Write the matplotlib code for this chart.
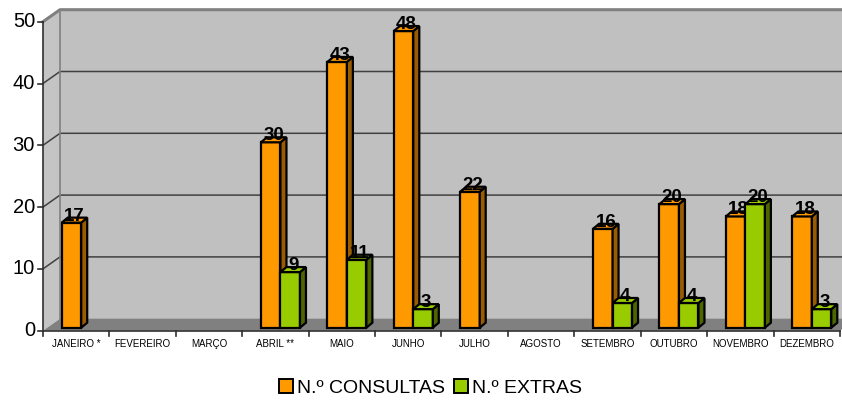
import numpy as np
import matplotlib.pyplot as plt
from matplotlib.patches import Polygon, Rectangle, Patch

plt.rcParams['font.family'] = ['Liberation Sans', 'DejaVu Sans']

# data (None = no bar)
meses = ['JANEIRO *', 'FEVEREIRO', 'MARÇO', 'ABRIL **', 'MAIO', 'JUNHO',
         'JULHO', 'AGOSTO', 'SETEMBRO', 'OUTUBRO', 'NOVEMBRO', 'DEZEMBRO']
consultas = [17, None, None, 30, 43, 48, 22, None, 16, 20, 18, 18]
extras = [None, None, None, 9, 11, 3, None, None, 4, 4, 20, 3]
y_ticks = [0, 10, 20, 30, 40, 50]

series = [('N.º CONSULTAS', consultas, '#FF9900', '#9A5C00'),
          ('N.º EXTRAS', extras, '#99CC00', '#4D6600')]

W, H = 842, 403
fig = plt.figure(figsize=(W / 100, H / 100), dpi=100)
ax = fig.add_axes([43 / W, (H - 330.7) / H, 797 / W, 309 / H])
n = len(meses)
ymax = y_ticks[-1]
ax.set_xlim(0, n)
ax.set_ylim(0, ymax)
ax.axis('off')

# pixel sizes turned into data units
sx = 797 / n
sy = 309 / ymax
wx, wy = 17 / sx, 12 / sy     # depth of the walls
bx, by = 5 / sx, 3 / sy       # bars sit a bit behind the front plane
dx, dy = 6 / sx, 5 / sy       # depth of each bar
bw = 19.5 / sx

# walls and floor
ax.add_patch(Polygon([(wx, wy), (n + wx, wy), (n + wx, ymax + wy), (wx, ymax + wy)],
                     fc='#C0C0C0', ec='none', clip_on=False, zorder=0))
ax.add_patch(Polygon([(0, 0), (wx, wy), (wx, ymax + wy), (0, ymax)],
                     fc='#C4C4C4', ec='none', clip_on=False, zorder=0))
ax.add_patch(Polygon([(0, 0), (n, 0), (n + wx, wy), (wx, wy)],
                     fc='#808080', ec='none', clip_on=False, zorder=1))

for t in y_ticks[1:-1]:
    ax.plot([0, wx, n + wx], [t, t + wy, t + wy], color='#404040', lw=1.1,
            clip_on=False, zorder=1)
ax.plot([0, wx, n + wx], [ymax, ymax + wy, ymax + wy], color='#808080', lw=2.2,
        clip_on=False, zorder=1)
ax.plot([wx, wx], [wy, ymax + wy], color='#808080', lw=1.2, clip_on=False, zorder=1)

# axes lines and ticks
ax.plot([0, 0], [0, ymax], color='#303030', lw=1.2, clip_on=False, zorder=2)
ax.plot([0, n], [0, 0], color='#303030', lw=1.2, clip_on=False, zorder=2)
for t in y_ticks:
    ax.plot([-5 / sx, 0], [t, t], color='#303030', lw=1.2, clip_on=False)
    ax.text(-8 / sx, t, str(t), ha='right', va='center', fontsize=14.5)
for i in range(n + 1):
    ax.plot([i, i], [0, -5 / sy], color='#303030', lw=1.2, clip_on=False)
for i, m in enumerate(meses):
    ax.text(i + 0.5, -13.5 / sy, m, ha='center', va='center', fontsize=7)

# 3d-looking columns
z = 3
for k, (name, vals, fc, sc) in enumerate(series):
    for i, v in enumerate(vals):
        if v is None:
            continue
        x0 = i + 0.5 + bx - bw + k * bw
        y0, y1 = by, v + by
        ax.add_patch(Rectangle((x0, y0), bw, v, fc=fc, ec='black', lw=1.6,
                               clip_on=False, zorder=z))
        ax.add_patch(Polygon([(x0 + bw, y0), (x0 + bw + dx, y0 + dy),
                              (x0 + bw + dx, y1 + dy), (x0 + bw, y1)],
                             fc=sc, ec='black', lw=1.6, clip_on=False, zorder=z))
        ax.add_patch(Polygon([(x0, y1), (x0 + bw, y1), (x0 + bw + dx, y1 + dy),
                              (x0 + dx, y1 + dy)],
                             fc=fc, ec='black', lw=1.6, clip_on=False, zorder=z))
        ax.text(x0 + bw / 2 + dx / 2, y1 + dy + 0.25, str(v), ha='center',
                va='center', fontsize=13.5, fontweight='bold', zorder=z + 0.5)
    z += 1

handles = [Patch(fc=fc, ec='black', lw=1.4, label=name) for name, _, fc, _ in series]
fig.legend(handles=handles, loc='center', bbox_to_anchor=(430.5 / W, 1 - 388 / H),
           ncol=2, frameon=False, fontsize=14, handlelength=0.72, handleheight=0.72,
           handletextpad=0.2, columnspacing=0.5, borderpad=0)

fig.savefig('out.png', dpi=100)
